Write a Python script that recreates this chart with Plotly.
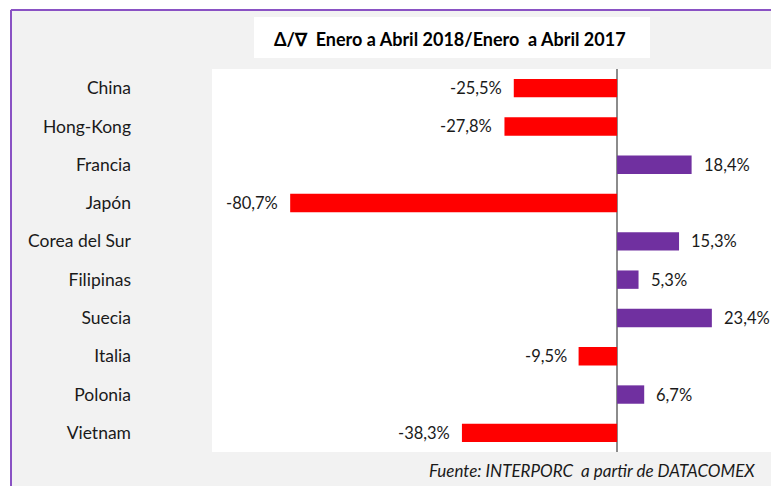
import plotly.graph_objects as go

# Variación Enero-Abril 2018 vs Enero-Abril 2017 por país destino
paises = ["China", "Hong-Kong", "Francia", "Japón", "Corea del Sur",
          "Filipinas", "Suecia", "Italia", "Polonia", "Vietnam"]
variacion = [-25.5, -27.8, 18.4, -80.7, 15.3, 5.3, 23.4, -9.5, 6.7, -38.3]

titulo = "Δ/∇  Enero a Abril 2018/Enero  a Abril 2017"
fuente = "Fuente: INTERPORC  a partir de DATACOMEX"

ROJO = "#ff0000"
MORADO = "#7030a0"
GRIS = "#f2f2f2"
FONT = "Lato"

W, H = 771, 486
ML, MR, MT, MB = 212, 0, 69, 34
PW, PH = W - ML - MR, H - MT - MB


def px_x(x):
    return (x - ML) / PW


def px_y(y):
    return (H - MB - y) / PH


colores = [ROJO if v < 0 else MORADO for v in variacion]

fig = go.Figure(go.Bar(
    x=variacion,
    y=paises,
    orientation="h",
    marker=dict(color=colores, line=dict(width=0)),
    hoverinfo="skip",
))

# Etiquetas de valor junto al extremo de cada barra
for p, v in zip(paises, variacion):
    etiqueta = f"{v:.1f}%".replace(".", ",")
    fig.add_annotation(
        x=v, y=p, xref="x", yref="y",
        text=etiqueta, showarrow=False,
        xanchor="right" if v < 0 else "left",
        xshift=-10 if v < 0 else 10,
        font=dict(family=FONT, size=16.5, color="#1a1a1a"),
    )

shapes = [
    # margen blanco exterior y marco morado
    dict(type="rect", xref="paper", yref="paper",
         x0=px_x(0), x1=px_x(W), y0=px_y(0), y1=px_y(9),
         fillcolor="white", line=dict(width=0), layer="below"),
    dict(type="rect", xref="paper", yref="paper",
         x0=px_x(0), x1=px_x(10), y0=px_y(0), y1=px_y(H),
         fillcolor="white", line=dict(width=0), layer="below"),
    dict(type="line", xref="paper", yref="paper",
         x0=px_x(11), x1=px_x(W), y0=px_y(10), y1=px_y(10),
         line=dict(color="#8a52c4", width=2)),
    dict(type="line", xref="paper", yref="paper",
         x0=px_x(11), x1=px_x(11), y0=px_y(10), y1=px_y(H),
         line=dict(color="#8a52c4", width=2)),
    # caja blanca del título
    dict(type="rect", xref="paper", yref="paper",
         x0=px_x(254), x1=px_x(650), y0=px_y(58), y1=px_y(17),
         fillcolor="white", line=dict(width=0), layer="below"),
]

fig.add_annotation(
    x=px_x(450), y=px_y(39), xref="paper", yref="paper",
    text=f"<b>{titulo}</b>", showarrow=False,
    xanchor="center", yanchor="middle",
    font=dict(family=FONT, size=18, color="black"),
)
fig.add_annotation(
    x=px_x(757), y=px_y(471), xref="paper", yref="paper",
    text=f"<i>{fuente}</i>", showarrow=False,
    xanchor="right", yanchor="middle",
    font=dict(family=FONT, size=17, color="#1a1a1a"),
)

fig.update_layout(
    width=W, height=H,
    margin=dict(l=ML, r=MR, t=MT, b=MB, pad=0),
    paper_bgcolor=GRIS,
    plot_bgcolor="white",
    showlegend=False,
    bargap=0.52,
    shapes=shapes,
    xaxis=dict(range=[-100, 38], showgrid=False, showticklabels=False,
               zeroline=True, zerolinecolor="#8c8c8c", zerolinewidth=2,
               fixedrange=True),
    yaxis=dict(autorange="reversed", showgrid=False, zeroline=False,
               ticks="", ticklabelstandoff=80,
               tickfont=dict(family=FONT, size=17.5, color="#1a1a1a"),
               fixedrange=True),
)

fig.write_html("out.html", config={"displayModeBar": False})
